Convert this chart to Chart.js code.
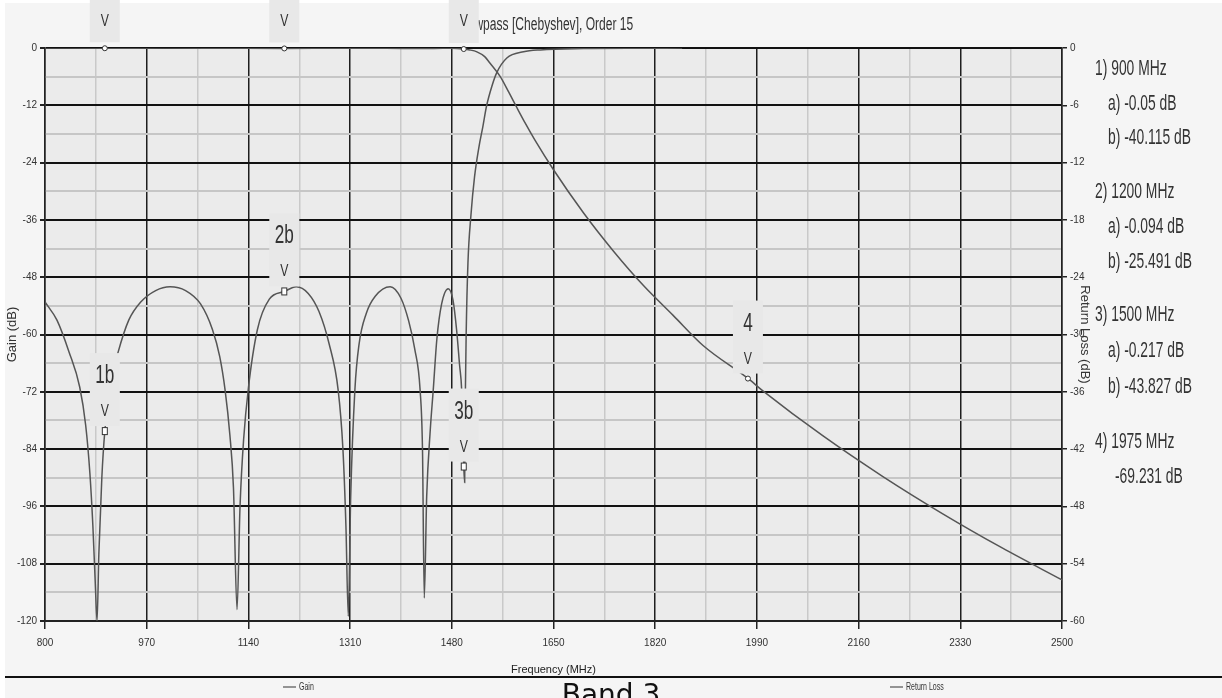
<!DOCTYPE html>
<html>
<head>
<meta charset="utf-8">
<title>Lowpass [Chebyshev], Order 15</title>
<script src="https://cdn.jsdelivr.net/npm/chart.js@4.4.1/dist/chart.umd.min.js"></script>
<style>
  html, body { margin: 0; padding: 0; background: #ffffff; }
  #wrap { position: relative; width: 1222px; height: 698px; }
</style>
</head>
<body>
<div id="wrap"><canvas id="chart"></canvas></div>
<script>
// Filter response (frequency in MHz, values in dB)
const gainFreq = [800, 900, 1000, 1100, 1200, 1300, 1400, 1450, 1480, 1500, 1510, 1522, 1535, 1544, 1561, 1575, 1588, 1603, 1619, 1650, 1700, 1750, 1800, 1850, 1900, 1975, 2000, 2100, 2200, 2300, 2400, 2500];
const gainDb = [0, -0.05, -0.02, -0.05, -0.09, -0.05, -0.08, -0.1, -0.05, -0.22, -0.4, -0.8, -1.8, -3.2, -6.0, -9.2, -12.3, -15.8, -19.3, -25.5, -34.5, -42.5, -49.7, -56, -62.3, -69.2, -71.8, -81.2, -89.7, -97.5, -104.7, -111.4];

const rlFreq = [800, 820, 840, 858, 868, 875, 880, 884, 887, 890, 895, 900, 910, 922, 940, 960, 985, 1009, 1035, 1060, 1080, 1092, 1101, 1109, 1115, 1121, 1126, 1132, 1140, 1155, 1175, 1200, 1220, 1240, 1258, 1275, 1290, 1298, 1303, 1307, 1311, 1318, 1325, 1337, 1352, 1377, 1395, 1408, 1418, 1427, 1431, 1434, 1438, 1444, 1449, 1455, 1463, 1474, 1482, 1488, 1493, 1496.5, 1498.5, 1500, 1501.5, 1502.5, 1504, 1507, 1512, 1518, 1525, 1532, 1538, 1547, 1555, 1572, 1600, 1628, 1700, 1800, 1865];
const rlDb = [-26.6, -28.5, -31.8, -35.5, -39.5, -44.5, -50, -56, -60, -53, -45, -40.1, -35, -31.9, -28.5, -26.6, -25.4, -25.0, -25.4, -26.8, -29.5, -32.3, -35.8, -40.5, -46, -58.8, -48, -41, -35.6, -29.5, -26.3, -25.5, -25.0, -25.7, -27.6, -31, -35.8, -42, -50, -59.5, -47, -35.8, -31, -27.8, -26, -25.0, -26.2, -28.6, -31.5, -35.8, -42, -57.6, -47, -40, -35.8, -30.5, -26.8, -25.2, -26.4, -29.5, -33.2, -35.8, -40, -43.8, -45.5, -37, -30, -22.5, -17.5, -13.5, -10.5, -8.2, -6.1, -4, -2.6, -1.05, -0.4, -0.2, -0.06, -0.02, -0.01];

// Markers
const markerNames = ['1', '2', '3'];
const markerFreq = [900, 1200, 1500];
const markerGain = [-0.05, -0.094, -0.217];
const markerReturnLoss = [-40.115, -25.491, -43.827];
const marker4Freq = 1975;
const marker4Gain = -69.231;

// Axis ticks
const xTickLabels = [800, 970, 1140, 1310, 1480, 1650, 1820, 1990, 2160, 2330, 2500];
const xGridValues = [800, 885, 970, 1055, 1140, 1225, 1310, 1395, 1480, 1565, 1650, 1735, 1820, 1905, 1990, 2075, 2160, 2245, 2330, 2415, 2500];
const gainTickLabels = [0, -12, -24, -36, -48, -60, -72, -84, -96, -108, -120];
const gainGridValues = [-120, -114, -108, -102, -96, -90, -84, -78, -72, -66, -60, -54, -48, -42, -36, -30, -24, -18, -12, -6, 0];
const rlTickLabels = [-60, -54, -48, -42, -36, -30, -24, -18, -12, -6, 0];

const chartTitle = 'Lowpass [Chebyshev], Order 15';
const readout = [
  ['1) 900 MHz', 0], ['a) -0.05 dB', 1], ['b) -40.115 dB', 1],
  ['2) 1200 MHz', 0], ['a) -0.094 dB', 1], ['b) -25.491 dB', 1],
  ['3) 1500 MHz', 0], ['a) -0.217 dB', 1], ['b) -43.827 dB', 1],
  ['4) 1975 MHz', 0], ['-69.231 dB', 2]
];
const readoutY = [75, 110, 144, 198, 233, 268, 321, 357, 393, 448, 483];

const NARROW = "'Liberation Sans Narrow', 'Liberation Sans', Arial, sans-serif";
const LINE = '#555555';

function narrowText(ctx, str, x, y, size, sx, align) {
  ctx.save();
  ctx.translate(x, y);
  ctx.scale(sx, 1);
  ctx.font = size + "px 'Liberation Sans', Arial, sans-serif";
  ctx.textAlign = align || 'left';
  ctx.textBaseline = 'alphabetic';
  ctx.fillText(str, 0, 0);
  ctx.restore();
}

function labelBox(ctx, x, top, bottom, label, labelY, vY) {
  ctx.fillStyle = '#e8e8e8';
  ctx.fillRect(x - 15, top, 30, bottom - top);
  ctx.fillStyle = '#333333';
  narrowText(ctx, label, x, labelY, 26, 0.66, 'center');
  narrowText(ctx, 'V', x, vY, 17, 0.72, 'center');
}

const decorPlugin = {
  id: 'decor',
  beforeDraw(chart) {
    const { ctx, chartArea: a } = chart;
    ctx.save();
    ctx.fillStyle = '#ffffff';
    ctx.fillRect(0, 0, chart.width, chart.height);
    ctx.fillStyle = '#f5f5f5';
    ctx.fillRect(5, 3, chart.width - 5, chart.height - 3);
    ctx.fillStyle = '#ebebeb';
    ctx.fillRect(a.left, a.top, a.right - a.left, a.bottom - a.top);
    ctx.restore();
  },
  afterDraw(chart) {
    const { ctx } = chart;
    const xs = chart.scales.x, yg = chart.scales.y, yr = chart.scales.y2;
    ctx.save();

    // title (partly hidden behind the 3a marker box)
    ctx.fillStyle = '#333333';
    narrowText(ctx, chartTitle, 461, 30, 18, 0.67, 'left');

    // gain markers 1a, 2a, 3a (their names run off the top edge)
    markerFreq.forEach((f, i) => {
      const px = xs.getPixelForValue(f);
      const py = yg.getPixelForValue(markerGain[i]);
      labelBox(ctx, px, -30, py - 6, markerNames[i] + 'a', -1, 26);
      ctx.beginPath();
      ctx.arc(px, py, 2.5, 0, Math.PI * 2);
      ctx.fillStyle = '#ffffff';
      ctx.fill();
      ctx.strokeStyle = '#333333';
      ctx.lineWidth = 1;
      ctx.stroke();
    });

    // return loss markers 1b, 2b, 3b
    markerFreq.forEach((f, i) => {
      const px = xs.getPixelForValue(f);
      const py = yr.getPixelForValue(markerReturnLoss[i]);
      labelBox(ctx, px, py - 78, py - 5, markerNames[i] + 'b', py - 48, py - 15);
      ctx.fillStyle = '#ffffff';
      ctx.fillRect(px - 2.5, py - 3.5, 5, 7);
      ctx.strokeStyle = '#333333';
      ctx.lineWidth = 1;
      ctx.strokeRect(px - 2.5, py - 3.5, 5, 7);
    });

    // marker 4 on the gain curve
    {
      const px = xs.getPixelForValue(marker4Freq);
      const py = yg.getPixelForValue(marker4Gain);
      labelBox(ctx, px, py - 78, py - 5, '4', py - 48, py - 15);
      ctx.beginPath();
      ctx.arc(px, py, 2.5, 0, Math.PI * 2);
      ctx.fillStyle = '#ffffff';
      ctx.fill();
      ctx.strokeStyle = '#333333';
      ctx.stroke();
    }

    // readout panel
    ctx.fillStyle = '#333333';
    readout.forEach(([txt, indent], i) => {
      const x = indent === 0 ? 1095 : (indent === 1 ? 1108 : 1115);
      narrowText(ctx, txt, x, readoutY[i], 22, 0.63, 'left');
    });

    // separator and legend
    ctx.fillStyle = '#111111';
    ctx.fillRect(5, 676, chart.width - 5, 2);
    ctx.strokeStyle = '#333333';
    ctx.lineWidth = 1.2;
    ctx.beginPath();
    ctx.moveTo(283, 687); ctx.lineTo(296, 687);
    ctx.moveTo(890, 687); ctx.lineTo(903, 687);
    ctx.stroke();
    ctx.fillStyle = '#333333';
    narrowText(ctx, 'Gain', 299, 690, 10, 0.7, 'left');
    narrowText(ctx, 'Return Loss', 906, 690, 10, 0.7, 'left');

    // band caption, cut by the bottom edge
    ctx.fillStyle = '#111111';
    ctx.font = "28px 'DejaVu Sans', sans-serif";
    ctx.textAlign = 'center';
    ctx.fillText('Band 3', 611, 704);
    ctx.restore();
  }
};

const isMajorX = v => xTickLabels.includes(v);
const isMajorY = v => gainTickLabels.includes(v);

new Chart(document.getElementById('chart'), {
  type: 'line',
  data: {
    datasets: [
      {
        label: 'Gain',
        data: gainFreq.map((f, i) => ({ x: f, y: gainDb[i] })),
        yAxisID: 'y',
        borderColor: LINE,
        borderWidth: 1.5,
        pointRadius: 0,
        cubicInterpolationMode: 'monotone'
      },
      {
        label: 'Return Loss',
        data: rlFreq.map((f, i) => ({ x: f, y: rlDb[i] })),
        yAxisID: 'y2',
        borderColor: LINE,
        borderWidth: 1.5,
        pointRadius: 0,
        cubicInterpolationMode: 'monotone'
      }
    ]
  },
  options: {
    responsive: true,
    maintainAspectRatio: false,
    animation: false,
    layout: { padding: { left: 5, right: 130, top: 48, bottom: 21 } },
    plugins: {
      legend: { display: false },
      tooltip: { enabled: false },
      title: { display: false }
    },
    scales: {
      x: {
        type: 'linear',
        min: 800,
        max: 2500,
        afterBuildTicks: s => { s.ticks = xGridValues.map(v => ({ value: v })); },
        afterFit: s => { s.height = 56; },
        ticks: {
          autoSkip: false,
          maxRotation: 0,
          padding: 8,
          color: '#333333',
          font: { family: NARROW, size: 10 },
          callback: v => isMajorX(v) ? String(v) : ''
        },
        grid: {
          color: c => isMajorX(c.tick.value) ? '#1e1e1e' : '#c9c9c9',
          lineWidth: 1.5,
          tickLength: 8,
          tickColor: c => isMajorX(c.tick.value) ? '#222222' : 'rgba(0,0,0,0)'
        },
        border: { display: true, color: '#222222', width: 2 },
        title: {
          display: true,
          text: 'Frequency (MHz)',
          color: '#222222',
          font: { family: NARROW, size: 11 },
          padding: { top: 0, bottom: 0 }
        }
      },
      y: {
        position: 'left',
        min: -120,
        max: 0,
        afterBuildTicks: s => { s.ticks = gainGridValues.map(v => ({ value: v })); },
        afterFit: s => { s.width = 40; },
        ticks: {
          autoSkip: false,
          padding: 3,
          color: '#333333',
          font: { family: NARROW, size: 10 },
          callback: v => isMajorY(v) ? String(v) : ''
        },
        grid: {
          color: c => isMajorY(c.tick.value) ? '#111111' : '#c6c6c6',
          lineWidth: 2,
          tickLength: 5,
          tickColor: c => isMajorY(c.tick.value) ? '#222222' : 'rgba(0,0,0,0)'
        },
        border: { display: true, color: '#222222', width: 1.5 },
        title: {
          display: true,
          text: 'Gain (dB)',
          color: '#333333',
          font: { family: NARROW, size: 13 },
          padding: { top: 0, bottom: 2 }
        }
      },
      y2: {
        position: 'right',
        min: -60,
        max: 0,
        afterBuildTicks: s => { s.ticks = rlTickLabels.map(v => ({ value: v })); },
        afterFit: s => { s.width = 30; },
        ticks: {
          autoSkip: false,
          padding: 3,
          color: '#333333',
          font: { family: NARROW, size: 10 },
          callback: v => String(v)
        },
        grid: {
          drawOnChartArea: false,
          tickLength: 5,
          tickColor: '#222222',
          lineWidth: 1.5
        },
        border: { display: true, color: '#222222', width: 1.5 },
        title: {
          display: true,
          text: 'Return Loss (dB)',
          color: '#333333',
          font: { family: NARROW, size: 13 },
          padding: { top: 0, bottom: 0 }
        }
      }
    }
  },
  plugins: [decorPlugin]
});
</script>
</body>
</html>
